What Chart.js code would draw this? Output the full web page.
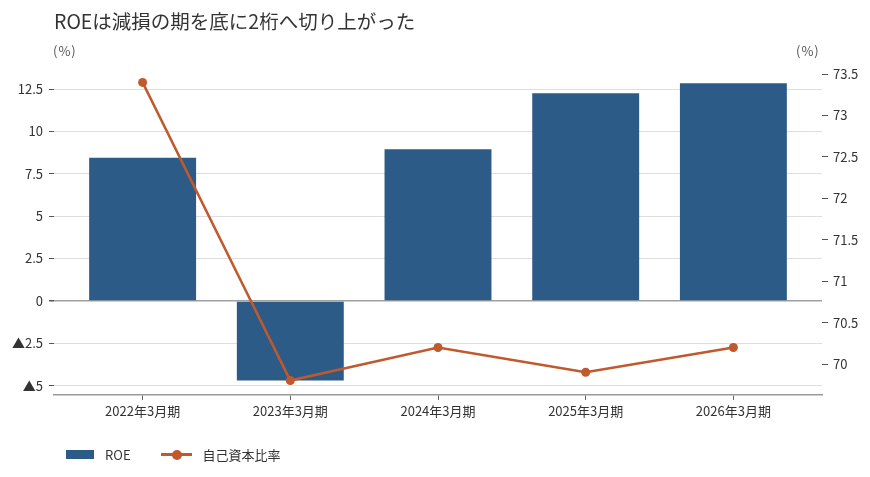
<!DOCTYPE html>
<html lang="ja">
<head>
<meta charset="utf-8">
<title>ROE</title>
<script src="https://cdn.jsdelivr.net/npm/chart.js@4.4.1/dist/chart.umd.min.js"></script>
<style>
  body { margin: 0; background: #fff; font-family: "Noto Sans CJK JP", "Noto Sans", sans-serif; }
  #wrap { position: relative; width: 870px; height: 477px; }
  .unit { position: absolute; top: 41px; font-size: 13px; color: #555; letter-spacing: 1px; }
  #legend { position: absolute; left: 66px; top: 445px; display: flex; align-items: center; font-size: 13px; color: #333; }
  .item { display: flex; align-items: center; margin-right: 30px; }
  .box { width: 28px; height: 9px; background: #2d5b88; margin-right: 11px; }
  .line { position: relative; width: 31px; height: 3px; background: #c0592e; margin-right: 11px; }
  .line::after { content: ""; position: absolute; left: 11px; top: -3.5px; width: 10px; height: 10px; border-radius: 50%; background: #c0592e; }
</style>
</head>
<body>
<div id="wrap">
  <canvas id="myChart"></canvas>
  <div class="unit" style="left:53px">(%)</div>
  <div class="unit" style="left:796px">(%)</div>
  <div id="legend">
    <div class="item"><span class="box"></span>ROE</div>
    <div class="item"><span class="line"></span>自己資本比率</div>
  </div>
</div>
<script>
const categories = ['2022年3月期', '2023年3月期', '2024年3月期', '2025年3月期', '2026年3月期'];
const roe = [8.45, -4.7, 8.95, 12.25, 12.85];
const equityRatio = [73.4, 69.8, 70.2, 69.9, 70.2];

const leftTicks = [-5, -2.5, 0, 2.5, 5, 7.5, 10, 12.5];
const leftTickLabels = ['▲5', '▲2.5', '0', '2.5', '5', '7.5', '10', '12.5'];
const rightTicks = [70, 70.5, 71, 71.5, 72, 72.5, 73, 73.5];
const rightTickLabels = ['70', '70.5', '71', '71.5', '72', '72.5', '73', '73.5'];

const font = { family: '"Noto Sans CJK JP", "Noto Sans", sans-serif', size: 13 };

const ctx = document.getElementById('myChart').getContext('2d');

new Chart(ctx, {
  data: {
    datasets: [
      {
        type: 'line',
        label: '自己資本比率',
        data: categories.map((c, i) => ({ x: i, y: equityRatio[i] })),
        yAxisID: 'y2',
        borderColor: '#c0592e',
        backgroundColor: '#c0592e',
        borderWidth: 2.5,
        pointRadius: 4.5,
        pointBorderWidth: 0,
        tension: 0,
        order: 0
      },
      {
        type: 'bar',
        label: 'ROE',
        data: categories.map((c, i) => ({ x: i, y: roe[i] })),
        yAxisID: 'y',
        backgroundColor: '#2d5b88',
        categoryPercentage: 1,
        barPercentage: 0.724,
        order: 1
      }
    ]
  },
  options: {
    responsive: true,
    maintainAspectRatio: false,
    animation: false,
    layout: { padding: { left: 0, right: 0, top: 0, bottom: 52 } },
    plugins: {
      legend: { display: false },
      tooltip: { enabled: false },
      title: {
        display: true,
        text: 'ROEは減損の期を底に2桁へ切り上がった',
        align: 'start',
        fullSize: false,
        color: '#333',
        font: { family: font.family, size: 19.5, weight: 'normal', lineHeight: 1.2 },
        padding: { top: 10, bottom: 31.6 }
      }
    },
    scales: {
      x: {
        type: 'linear',
        min: -0.6,
        max: 4.6,
        offset: false,
        afterBuildTicks: scale => { scale.ticks = categories.map((c, i) => ({ value: i })); },
        afterFit: scale => { scale.height = 30; },
        ticks: {
          callback: value => categories[value],
          color: '#333',
          font: font,
          padding: 3,
          maxRotation: 0,
          autoSkip: false
        },
        grid: { offset: false, drawOnChartArea: false, drawTicks: true, tickLength: 5, tickColor: '#666' },
        border: { color: '#999', width: 1.5 }
      },
      y: {
        position: 'left',
        min: -5.55,
        max: 13.92,
        afterBuildTicks: scale => { scale.ticks = leftTicks.map(v => ({ value: v })); },
        afterFit: scale => { scale.width = 54; },
        ticks: {
          callback: (value, index) => leftTickLabels[index],
          color: '#333',
          font: font,
          padding: 6
        },
        grid: {
          color: c => (c.tick && c.tick.value === 0 ? '#a0a0a0' : '#dedede'),
          lineWidth: c => (c.tick && c.tick.value === 0 ? 1.5 : 1),
          tickColor: '#555',
          tickLength: 5
        },
        border: { display: false }
      },
      y2: {
        position: 'right',
        min: 69.626,
        max: 73.61,
        afterBuildTicks: scale => { scale.ticks = rightTicks.map(v => ({ value: v })); },
        afterFit: scale => { scale.width = 48; },
        ticks: {
          callback: (value, index) => rightTickLabels[index],
          color: '#333',
          font: font,
          padding: 5
        },
        grid: { drawOnChartArea: false, drawTicks: true, tickLength: 6, tickColor: '#555' },
        border: { display: false }
      }
    }
  }
});
</script>
</body>
</html>
